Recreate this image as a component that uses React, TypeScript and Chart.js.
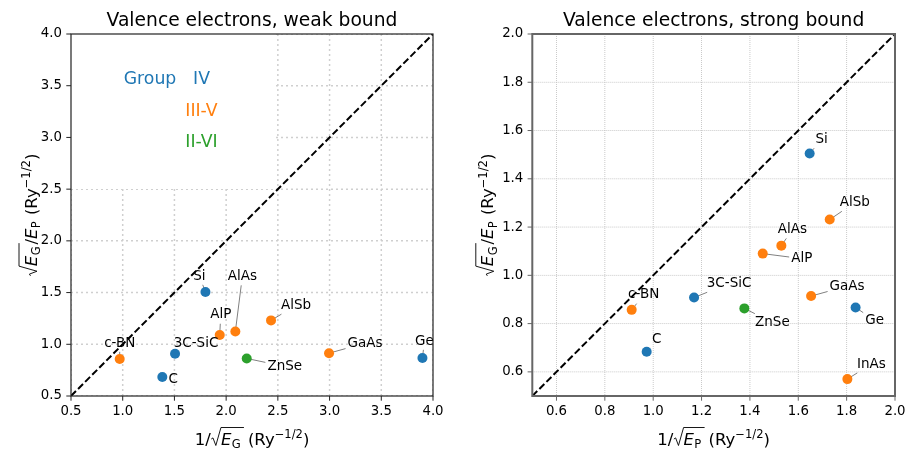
import React, { useEffect, useRef } from "react";
import { Chart, registerables } from "chart.js";

Chart.register(...registerables);

const FONT = '"DejaVu Sans", "Liberation Sans", sans-serif';
Chart.defaults.font.family = FONT;

// ---------------- data ----------------
const compounds = ["Si", "C", "3C-SiC", "Ge", "c-BN", "AlP", "AlAs", "AlSb", "GaAs", "InAs", "ZnSe"];
const groupOf = ["IV", "IV", "IV", "IV", "III-V", "III-V", "III-V", "III-V", "III-V", "III-V", "II-VI"];
const sqrtEgOverEp = [1.505, 0.683, 0.908, 0.867, 0.857, 1.09, 1.123, 1.231, 0.914, 0.57, 0.863];
const invSqrtEg: (number | null)[] = [1.8, 1.383, 1.506, 3.898, 0.971, 1.938, 2.089, 2.434, 2.995, null, 2.199];
const invSqrtEp: (number | null)[] = [1.647, 0.973, 1.169, 1.837, 0.911, 1.453, 1.53, 1.73, 1.653, 1.803, 1.377];

const groupNames = ["IV", "III-V", "II-VI"];
const groupColors = ["#1f77b4", "#ff7f0e", "#2ca02c"];
const legendTitle = "Group";

const weakRange = [0.5, 4.0];
const strongRange = [0.5, 2.0];
const weakTicks = [0.5, 1.0, 1.5, 2.0, 2.5, 3.0, 3.5, 4.0];
const strongTicks = [0.6, 0.8, 1.0, 1.2, 1.4, 1.6, 1.8, 2.0];

const weakTitle = "Valence electrons, weak bound";
const strongTitle = "Valence electrons, strong bound";

// annotation text offsets (pixels, text centre relative to marker)
const weakLabelOffsets: ([number, number] | null)[] = [
  [-6, -16], [11, 2], [21, -10], [2, -17], [0, -16], [1, -20], [7, -55], [25, -15], [36, -10], null, [38, 8],
];
const strongLabelOffsets: ([number, number] | null)[] = [
  [12, -14], [10, -12], [35, -14], [19, 13], [12, -15], [39, 5], [11, -16], [25, -17], [36, -10], [24, -15], [28, 14],
];

// ---------------- math text helper ----------------
type Seg = { t?: string; it?: boolean; k?: number; dy?: number; ol?: boolean; rad?: boolean; sp?: number };

function segFont(s: Seg, size: number) {
  return `${s.it ? "italic " : ""}${size * (s.k ?? 1)}px ${FONT}`;
}

function measureMath(ctx: CanvasRenderingContext2D, segs: Seg[], size: number) {
  let w = 0;
  for (const s of segs) {
    if (s.rad) { w += size * 0.62; continue; }
    ctx.font = segFont(s, size);
    w += ctx.measureText(s.t || "").width + (s.sp ?? 0) * size;
  }
  return w;
}

function drawMath(ctx: CanvasRenderingContext2D, segs: Seg[], cx: number, base: number, size: number, color: string) {
  const total = measureMath(ctx, segs, size);
  let x = cx - total / 2;
  let olStart: number | null = null;
  let olEnd: number | null = null;
  const top = base - size * 1.06;
  ctx.fillStyle = color;
  ctx.strokeStyle = color;
  ctx.textAlign = "left";
  ctx.textBaseline = "alphabetic";
  ctx.setLineDash([]);
  for (const s of segs) {
    if (s.rad) {
      const w = size * 0.62;
      ctx.lineWidth = size * 0.055;
      ctx.beginPath();
      ctx.moveTo(x + w * 0.05, base - size * 0.36);
      ctx.lineTo(x + w * 0.22, base - size * 0.43);
      ctx.lineTo(x + w * 0.5, base + size * 0.03);
      ctx.lineTo(x + w, top);
      ctx.stroke();
      olStart = x + w;
      x += w;
      continue;
    }
    ctx.font = segFont(s, size);
    const w = ctx.measureText(s.t || "").width;
    ctx.fillText(s.t || "", x, base + (s.dy ?? 0) * size);
    x += w + (s.sp ?? 0) * size;
    if (s.ol) olEnd = x;
  }
  if (olStart != null && olEnd != null) {
    ctx.lineWidth = size * 0.055;
    ctx.beginPath();
    ctx.moveTo(olStart, top);
    ctx.lineTo(olEnd + size * 0.08, top);
    ctx.stroke();
  }
}

const xLabelWeak: Seg[] = [
  { t: "1/" }, { rad: true }, { t: "E", it: true, ol: true, sp: 0.02 }, { t: "G", k: 0.7, dy: 0.2, ol: true, sp: 0.12 },
  { t: " (Ry" }, { t: "\u22121/2", k: 0.7, dy: -0.4 }, { t: ")" },
];
const xLabelStrong: Seg[] = [
  { t: "1/" }, { rad: true }, { t: "E", it: true, ol: true, sp: 0.02 }, { t: "P", k: 0.7, dy: 0.2, ol: true, sp: 0.12 },
  { t: " (Ry" }, { t: "\u22121/2", k: 0.7, dy: -0.4 }, { t: ")" },
];
const yLabel: Seg[] = [
  { rad: true }, { t: "E", it: true, ol: true, sp: 0.02 }, { t: "G", k: 0.7, dy: 0.2, ol: true, sp: 0.12 },
  { t: "/" }, { t: "E", it: true, sp: 0.02 }, { t: "P", k: 0.7, dy: 0.2, sp: 0.05 },
  { t: " (Ry" }, { t: "\u22121/2", k: 0.7, dy: -0.4 }, { t: ")" },
];

// ---------------- panel ----------------
type PanelCfg = {
  title: string;
  xs: (number | null)[];
  range: number[];
  ticks: number[];
  offsets: ([number, number] | null)[];
  xLabel: Seg[];
  yAxisWidth: number;
  padRight: number;
  yLabelDist: number;
  gridColor: string;
  gridWidth: number;
  gridDash: number[];
  frameColor: string;
  frameWidth: number;
  whiteBox: { w: number; h: number } | null;
  showLegend: boolean;
};

const LABEL_FONT = `13.5px ${FONT}`;

function makePlugin(cfg: PanelCfg) {
  return {
    id: "panelDeco",
    beforeDatasetsDraw(chart: any) {
      const { ctx, chartArea: a, scales } = chart;
      const sx = scales.x, sy = scales.y;
      ctx.save();
      ctx.beginPath();
      ctx.rect(a.left, a.top, a.right - a.left, a.bottom - a.top);
      ctx.clip();
      ctx.strokeStyle = cfg.gridColor;
      ctx.lineWidth = cfg.gridWidth;
      ctx.setLineDash(cfg.gridDash);
      for (const v of cfg.ticks) {
        const px = sx.getPixelForValue(v);
        ctx.beginPath(); ctx.moveTo(px, a.top); ctx.lineTo(px, a.bottom); ctx.stroke();
        const py = sy.getPixelForValue(v);
        ctx.beginPath(); ctx.moveTo(a.left, py); ctx.lineTo(a.right, py); ctx.stroke();
      }
      if (cfg.whiteBox) {
        ctx.fillStyle = "#ffffff";
        ctx.fillRect(a.left, a.top, cfg.whiteBox.w, cfg.whiteBox.h);
      }
      ctx.restore();
      // connectors
      ctx.save();
      ctx.setLineDash([]);
      ctx.strokeStyle = "#808080";
      ctx.lineWidth = 1;
      ctx.font = LABEL_FONT;
      compounds.forEach((name, i) => {
        const xv = cfg.xs[i];
        const off = cfg.offsets[i];
        if (xv == null || !off) return;
        const px = sx.getPixelForValue(xv);
        const py = sy.getPixelForValue(sqrtEgOverEp[i]);
        const tx = px + off[0], ty = py + off[1];
        const hw = ctx.measureText(name).width / 2 + 2;
        const hh = 13.5 / 2 + 2;
        const vx = px - tx, vy = py - ty;
        if (Math.abs(vx) <= hw && Math.abs(vy) <= hh) return;
        const t = Math.min(vx !== 0 ? hw / Math.abs(vx) : Infinity, vy !== 0 ? hh / Math.abs(vy) : Infinity);
        ctx.beginPath();
        ctx.moveTo(tx + vx * t, ty + vy * t);
        ctx.lineTo(px, py);
        ctx.stroke();
      });
      ctx.restore();
    },
    afterDatasetsDraw(chart: any) {
      const { ctx, chartArea: a, scales } = chart;
      const sx = scales.x, sy = scales.y;
      ctx.save();
      ctx.font = LABEL_FONT;
      ctx.fillStyle = "#000";
      ctx.textAlign = "center";
      ctx.textBaseline = "middle";
      compounds.forEach((name, i) => {
        const xv = cfg.xs[i];
        const off = cfg.offsets[i];
        if (xv == null || !off) return;
        const px = sx.getPixelForValue(xv);
        const py = sy.getPixelForValue(sqrtEgOverEp[i]);
        ctx.fillText(name, px + off[0], py + off[1]);
      });
      if (cfg.showLegend) {
        ctx.font = `17.3px ${FONT}`;
        ctx.fillStyle = groupColors[0];
        ctx.fillText(legendTitle, a.left + 79, a.top + 46);
        groupNames.forEach((g, gi) => {
          ctx.fillStyle = groupColors[gi];
          ctx.fillText(g, a.left + 130.5, a.top + 46 + gi * 31.2);
        });
      }
      // frame
      ctx.setLineDash([]);
      ctx.strokeStyle = cfg.frameColor;
      ctx.lineWidth = cfg.frameWidth;
      ctx.strokeRect(a.left, a.top, a.right - a.left, a.bottom - a.top);
      // tick marks
      ctx.lineWidth = 1;
      for (const v of cfg.ticks) {
        const px = sx.getPixelForValue(v);
        ctx.beginPath(); ctx.moveTo(px, a.bottom); ctx.lineTo(px, a.bottom + 4.7); ctx.stroke();
        const py = sy.getPixelForValue(v);
        ctx.beginPath(); ctx.moveTo(a.left - 4.7, py); ctx.lineTo(a.left, py); ctx.stroke();
      }
      ctx.restore();
    },
    afterDraw(chart: any) {
      const { ctx, chartArea: a } = chart;
      ctx.save();
      const cx = (a.left + a.right) / 2;
      ctx.font = `18.7px ${FONT}`;
      ctx.fillStyle = "#000";
      ctx.textAlign = "center";
      ctx.textBaseline = "alphabetic";
      ctx.fillText(cfg.title, cx, 26);
      drawMath(ctx, cfg.xLabel, cx, 445, 16.5, "#000");
      ctx.translate(a.left - cfg.yLabelDist, (a.top + a.bottom) / 2);
      ctx.rotate(-Math.PI / 2);
      drawMath(ctx, yLabel, 0, 0, 16.5, "#000");
      ctx.restore();
    },
  };
}

function Panel({ cfg, left }: { cfg: PanelCfg; left: number }) {
  const ref = useRef<HTMLCanvasElement | null>(null);
  useEffect(() => {
    const canvas = ref.current;
    if (!canvas) return;
    const tickFont = { family: FONT, size: 13.3 };
    const datasets: any[] = groupNames.map((g, gi) => ({
      label: g,
      data: compounds
        .map((c, i) => ({ x: cfg.xs[i], y: sqrtEgOverEp[i], g: groupOf[i] }))
        .filter((p) => p.g === g && p.x != null),
      backgroundColor: groupColors[gi],
      borderWidth: 0,
      pointRadius: 5,
      pointHoverRadius: 5,
    }));
    datasets.push({
      label: "diag",
      data: [
        { x: cfg.range[0], y: cfg.range[0] },
        { x: cfg.range[1], y: cfg.range[1] },
      ],
      showLine: true,
      borderColor: "#000",
      borderWidth: 2,
      borderDash: [7, 3],
      pointRadius: 0,
      pointHoverRadius: 0,
      fill: false,
    });
    const chart = new Chart(canvas, {
      type: "scatter",
      data: { datasets },
      options: {
        animation: false,
        responsive: false,
        events: [],
        layout: { padding: { left: 0, right: cfg.padRight, top: 34, bottom: 0 } },
        plugins: { legend: { display: false }, tooltip: { enabled: false }, title: { display: false } },
        scales: {
          x: {
            type: "linear",
            min: cfg.range[0],
            max: cfg.range[1],
            grid: { display: false, drawTicks: false },
            border: { display: false },
            ticks: {
              font: tickFont,
              color: "#000",
              padding: 8,
              autoSkip: false,
              maxRotation: 0,
              callback: (v: any) => Number(v).toFixed(1),
            },
            afterBuildTicks: (s: any) => {
              s.ticks = cfg.ticks.map((v) => ({ value: v }));
            },
            afterFit: (s: any) => {
              s.height = 55;
              s.paddingLeft = 0;
              s.paddingRight = 0;
            },
          },
          y: {
            type: "linear",
            min: cfg.range[0],
            max: cfg.range[1],
            grid: { display: false, drawTicks: false },
            border: { display: false },
            ticks: {
              font: tickFont,
              color: "#000",
              padding: 9,
              autoSkip: false,
              callback: (v: any) => Number(v).toFixed(1),
            },
            afterBuildTicks: (s: any) => {
              s.ticks = cfg.ticks.map((v) => ({ value: v }));
            },
            afterFit: (s: any) => {
              s.width = cfg.yAxisWidth;
              s.paddingTop = 0;
              s.paddingBottom = 0;
            },
          },
        },
      } as any,
      plugins: [makePlugin(cfg) as any],
    });
    return () => chart.destroy();
  }, [cfg]);
  return (
    <canvas
      ref={ref}
      width={453}
      height={451}
      style={{ position: "absolute", left, top: 0, width: 453, height: 451 }}
    />
  );
}

const weakCfg: PanelCfg = {
  title: weakTitle,
  xs: invSqrtEg,
  range: weakRange,
  ticks: weakTicks,
  offsets: weakLabelOffsets,
  xLabel: xLabelWeak,
  yAxisWidth: 71,
  padRight: 20,
  yLabelDist: 34.5,
  gridColor: "#cfcfcf",
  gridWidth: 1.5,
  gridDash: [2, 3],
  frameColor: "#222",
  frameWidth: 1.2,
  whiteBox: { w: 205, h: 155 },
  showLegend: true,
};

const strongCfg: PanelCfg = {
  title: strongTitle,
  xs: invSqrtEp,
  range: strongRange,
  ticks: strongTicks,
  offsets: strongLabelOffsets,
  xLabel: xLabelStrong,
  yAxisWidth: 79.3,
  padRight: 11,
  yLabelDist: 39,
  gridColor: "#c4c4c4",
  gridWidth: 0.9,
  gridDash: [1, 1],
  frameColor: "#666",
  frameWidth: 2,
  whiteBox: null,
  showLegend: false,
};

export default function App() {
  useEffect(() => {
    document.body.style.margin = "0";
  }, []);
  return (
    <div style={{ position: "fixed", left: 0, top: 0, width: 906, height: 451, background: "#fff" }}>
      <Panel cfg={weakCfg} left={0} />
      <Panel cfg={strongCfg} left={453} />
    </div>
  );
}
